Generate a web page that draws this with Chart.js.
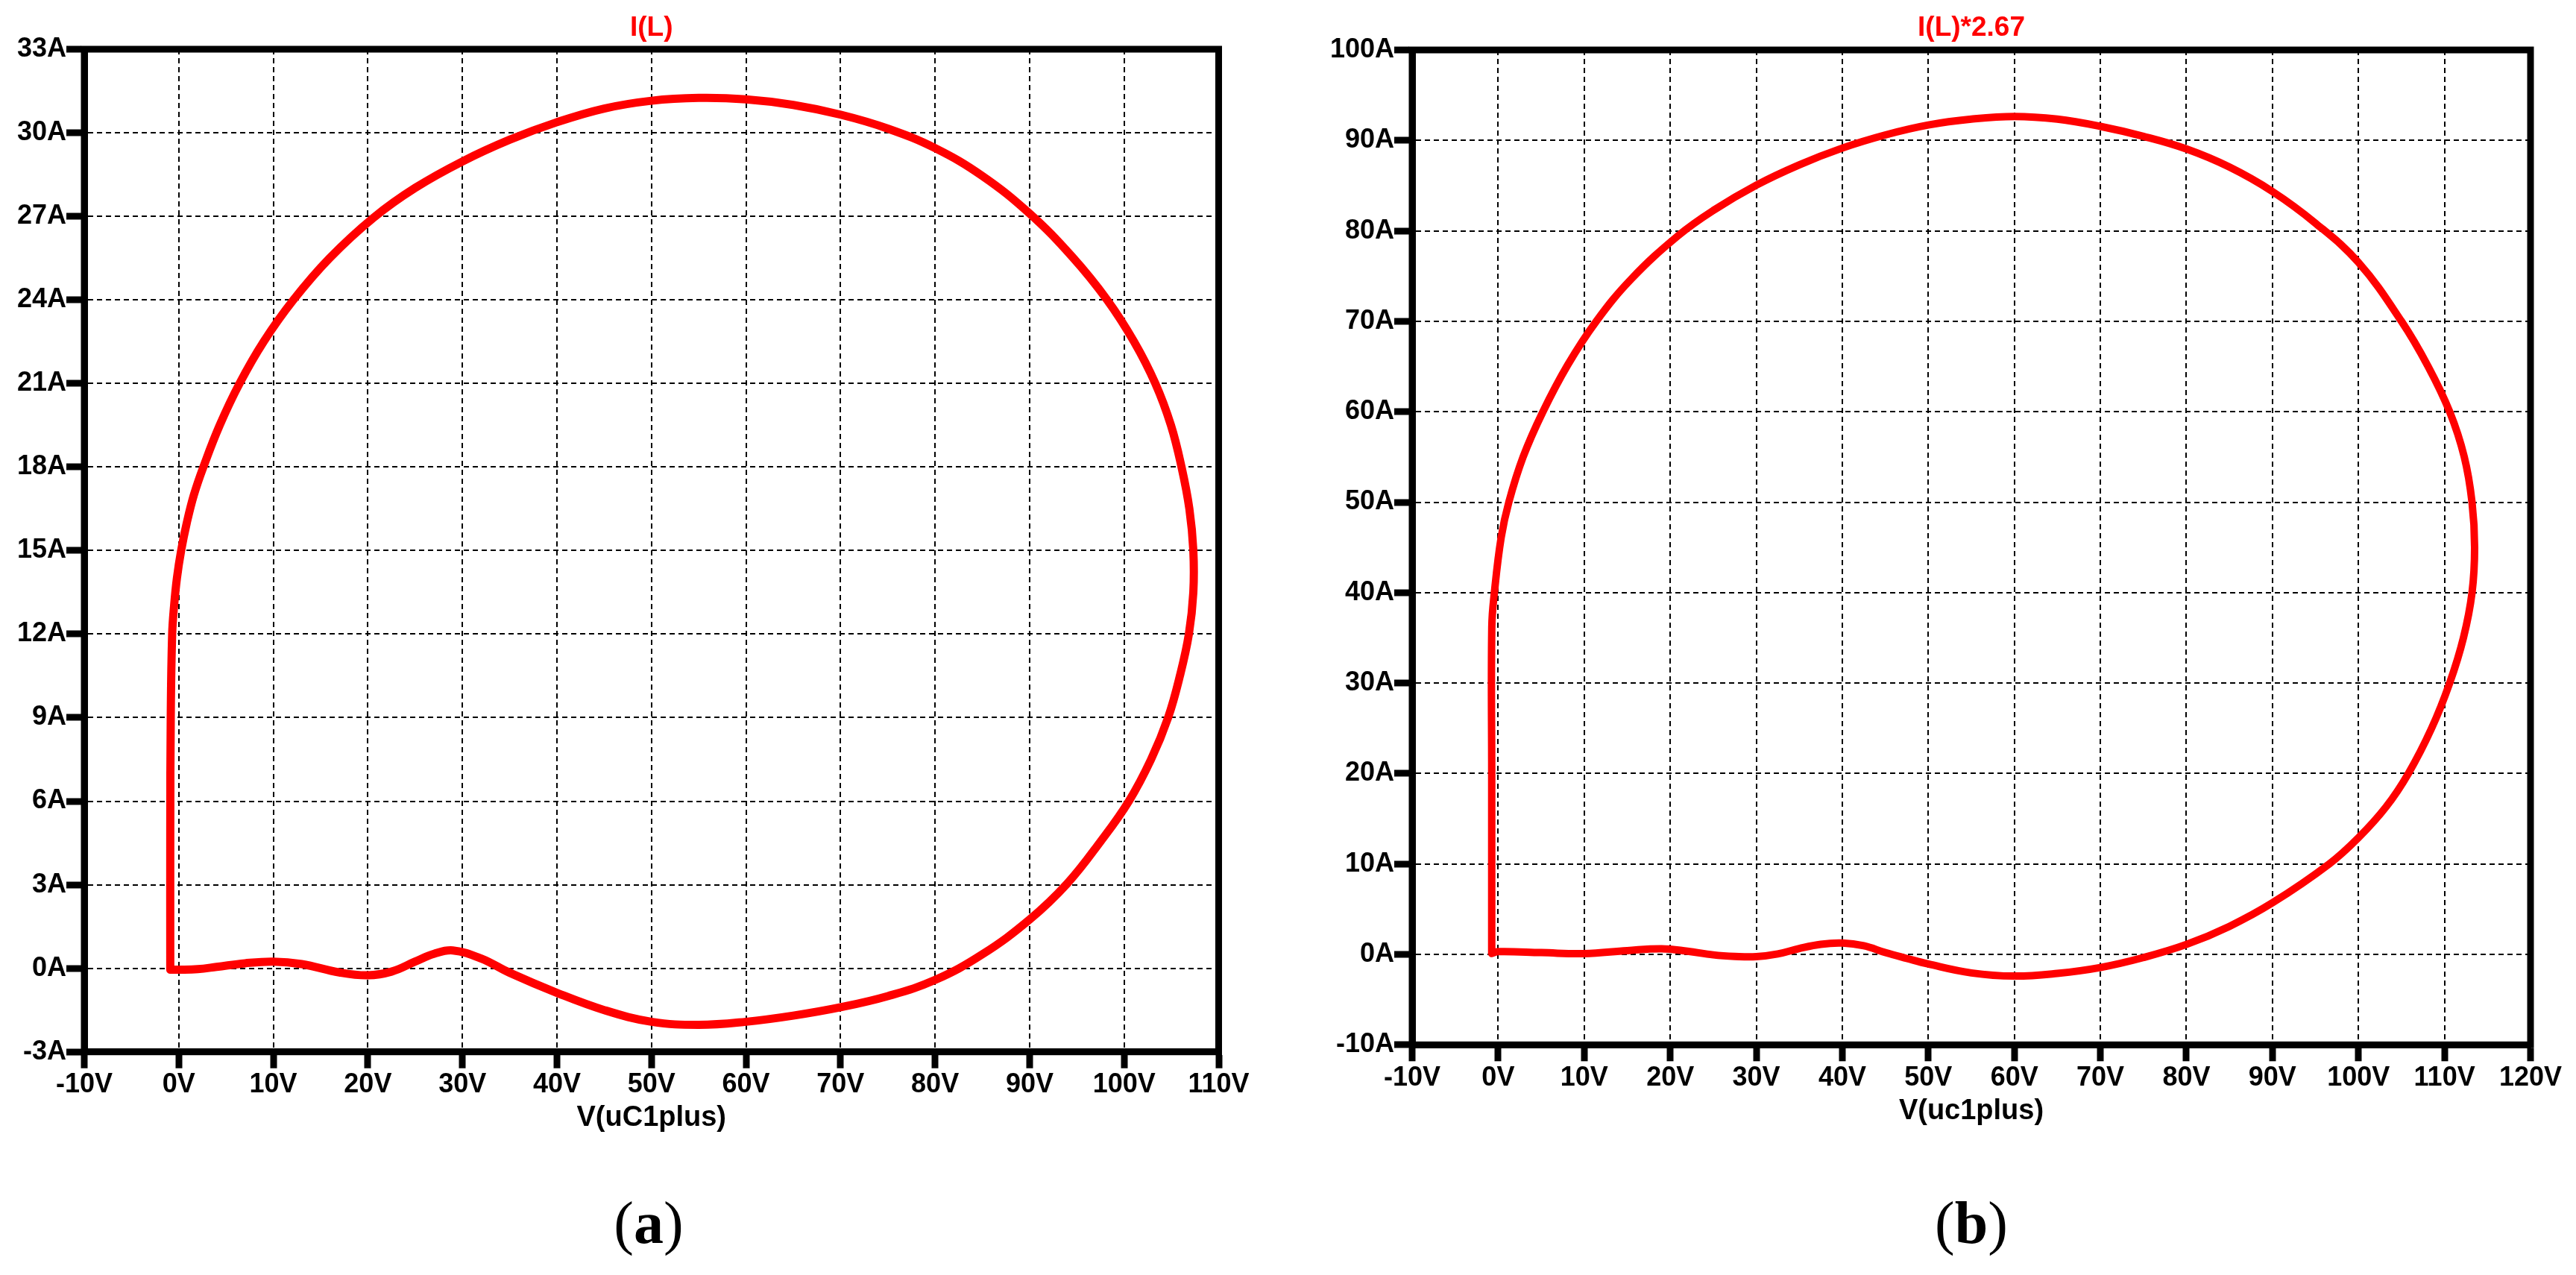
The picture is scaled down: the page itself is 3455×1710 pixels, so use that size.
<!DOCTYPE html>
<html>
<head>
<meta charset="utf-8">
<script src="https://cdn.jsdelivr.net/npm/chart.js@4.4.1/dist/chart.umd.min.js"></script>
<style>
    body { margin: 0; background: #fff; width: 3455px; height: 1710px; overflow: hidden; position: relative; }
    canvas { position: absolute; top: 0; }
    #chartA { left: 0; }
    #chartB { left: 1760px; }
    .caption { position: absolute; top: 1590px; width: 200px; text-align: center;
        font-family: "Liberation Serif", "Times New Roman", serif; font-size: 80px; line-height: 100px; color: #000; }
</style>
</head>
<body>
<canvas id="chartA" width="1740" height="1560"></canvas>
<canvas id="chartB" width="1695" height="1560"></canvas>
<div class="caption" style="left: 770px;">(<b>a</b>)</div>
<div class="caption" style="left: 2544px;">(<b>b</b>)</div>
<script>
// (a) I(L) vs V(uC1plus)
const voltageA = [-0.9, -0.9, -0.85, -0.7, -0.5, -0.2, 0.25, 0.85, 1.6, 2.6, 4.33, 6.43, 8.98, 12.13, 15.96, 20.6,
    25, 30, 35, 40, 45, 50, 55, 60, 65, 70, 75, 80, 85, 90, 94.5, 98.2, 101.05, 103.3, 104.95, 106.07, 106.9, 107.32,
    107.32, 106.85, 105.9, 104.65, 102.85, 100.5, 97.5, 94, 90, 85, 80, 75, 70, 65, 60, 55, 50, 45, 40, 35, 32, 29, 27,
    25, 22.5, 20, 17, 13, 10, 7, 4, 2, 0, -0.9];
const currentA = [-0.05, 5, 9, 12, 13, 14, 15, 16, 17, 18, 19.5, 21, 22.5, 24, 25.5, 26.95,
    28.02, 28.97, 29.75, 30.38, 30.87, 31.15, 31.25, 31.2, 31, 30.65, 30.15, 29.45, 28.45, 27.1, 25.55, 24, 22.5, 21,
    19.5, 18, 16.5, 15, 13.5, 12, 10.5, 9, 7.5, 6, 4.55, 3.05, 1.75, 0.5, -0.42, -1, -1.4, -1.7, -1.92, -2.03, -1.92,
    -1.5, -0.88, -0.16, 0.35, 0.64, 0.52, 0.24, -0.12, -0.25, -0.15, 0.15, 0.24, 0.18, 0.05, -0.03, -0.05, -0.05];
const xTicksA = [-10, 0, 10, 20, 30, 40, 50, 60, 70, 80, 90, 100, 110];
const yTicksA = [-3, 0, 3, 6, 9, 12, 15, 18, 21, 24, 27, 30, 33];

// (b) I(L)*2.67 vs V(uc1plus)
const voltageB = [-0.75, -0.75, -0.74, -0.44, 0.35, 1.24, 2.9, 5.2, 8.1, 11.4, 15.5, 20.9, 25, 30, 35, 40, 45,
    50, 55, 60, 65, 70, 75, 80, 85, 90, 95, 100, 105, 108.1, 110.6, 112.3, 113.2, 113.5, 113.2, 112.2, 110.6,
    108.5, 105.8, 103.2, 100, 96.6, 90, 85, 80, 75, 70, 65, 60, 55, 50, 47.5, 45, 42.5, 40, 37.5, 35, 32.5, 30,
    27.5, 25, 22, 19, 15, 10, 5, 0, -0.75];
const currentB = [0.1, 20, 36.2, 40, 46.1, 50, 55, 60, 65.2, 70, 74.7, 79.45, 82.25, 85.05, 87.3, 89.15, 90.6,
    91.7, 92.35, 92.65, 92.35, 91.55, 90.45, 89.05, 87.05, 84.35, 80.85, 76.5, 70, 65, 60, 55, 50, 45, 40, 35, 30,
    25, 20, 16.3, 12.9, 10, 5.7, 3.1, 1.1, -0.35, -1.45, -2.1, -2.4, -2.05, -1.07, -0.45, 0.2, 0.95, 1.25, 1.12, 0.65,
    0.05, -0.25, -0.22, -0.05, 0.35, 0.62, 0.42, 0.08, 0.2, 0.3, 0.1];
const xTicksB = [-10, 0, 10, 20, 30, 40, 50, 60, 70, 80, 90, 100, 110, 120];
const yTicksB = [-10, 0, 10, 20, 30, 40, 50, 60, 70, 80, 90, 100];

const FONT = '"Liberation Sans", Arial, Helvetica, sans-serif';

const framePlugin = {
    id: 'frame',
    afterDraw: function (chart) {
        const a = chart.chartArea;
        const c = chart.ctx;
        c.save();
        c.strokeStyle = '#000';
        c.lineWidth = 9;
        c.strokeRect(a.left, a.top, a.right - a.left, a.bottom - a.top);
        c.restore();
    }
};

function toPoints(xs, ys) {
    return xs.map(function (x, i) {
        return { x: x, y: ys[i] };
    });
}

function makeChart(id, opts) {
    const ctx = document.getElementById(id).getContext('2d');
    return new Chart(ctx, {
        type: 'scatter',
        data: {
            datasets: [{
                data: toPoints(opts.xs, opts.ys),
                showLine: true,
                borderColor: '#ff0000',
                borderWidth: opts.lineWidth,
                pointRadius: 0,
                tension: 0.4,
                borderJoinStyle: 'round',
                borderCapStyle: 'round'
            }]
        },
        options: {
            responsive: false,
            animation: false,
            devicePixelRatio: 1,
            layout: { padding: { left: 0, right: opts.padRight, top: 0, bottom: 0 } },
            plugins: {
                legend: { display: false },
                tooltip: { enabled: false },
                title: {
                    display: true,
                    text: opts.title,
                    color: '#ff0000',
                    fullSize: false,
                    font: { family: FONT, size: 37, weight: 'bold' },
                    padding: { top: 16, bottom: opts.titlePadBottom }
                }
            },
            scales: {
                x: {
                    type: 'linear',
                    min: opts.xTicks[0],
                    max: opts.xTicks[opts.xTicks.length - 1],
                    afterBuildTicks: function (scale) {
                        scale.ticks = opts.xTicks.map(function (v) { return { value: v }; });
                    },
                    afterFit: function (scale) { scale.height = opts.xHeight; },
                    ticks: {
                        autoSkip: false,
                        maxRotation: 0,
                        padding: 1,
                        color: '#000',
                        font: { family: FONT, size: 36, weight: 'bold' },
                        callback: function (value) { return value + 'V'; }
                    },
                    grid: { color: '#000', lineWidth: 2, tickLength: 22, tickColor: '#000', tickWidth: 9 },
                    border: { display: true, color: '#000', width: 9, dash: [7, 5] },
                    title: {
                        display: true,
                        text: opts.xTitle,
                        color: '#000',
                        font: { family: FONT, size: 38, weight: 'bold' },
                        padding: { top: 0, bottom: opts.xTitlePad }
                    }
                },
                y: {
                    type: 'linear',
                    min: opts.yTicks[0],
                    max: opts.yTicks[opts.yTicks.length - 1],
                    afterBuildTicks: function (scale) {
                        scale.ticks = opts.yTicks.map(function (v) { return { value: v }; });
                    },
                    afterFit: function (scale) { scale.width = opts.yWidth; },
                    ticks: {
                        padding: 0,
                        color: '#000',
                        font: { family: FONT, size: 36, weight: 'bold' },
                        callback: function (value) { return value + 'A'; }
                    },
                    grid: { color: '#000', lineWidth: 2, tickLength: 24, tickColor: '#000', tickWidth: 9 },
                    border: { display: true, color: '#000', width: 9, dash: [7, 5] }
                }
            }
        },
        plugins: [framePlugin]
    });
}

const chartA = makeChart('chartA', {
    xs: voltageA, ys: currentA, xTicks: xTicksA, yTicks: yTicksA,
    title: 'I(L)', xTitle: 'V(uC1plus)', lineWidth: 11,
    padRight: 105.5, yWidth: 113, titlePadBottom: 5.6, xHeight: 149.3, xTitlePad: 37.2
});

const chartB = makeChart('chartB', {
    xs: voltageB, ys: currentB, xTicks: xTicksB, yTicks: yTicksB,
    title: 'I(L)*2.67', xTitle: 'V(uc1plus)', lineWidth: 10,
    padRight: 61, yWidth: 134, titlePadBottom: 6.6, xHeight: 158.7, xTitlePad: 46.9
});
</script>
</body>
</html>
